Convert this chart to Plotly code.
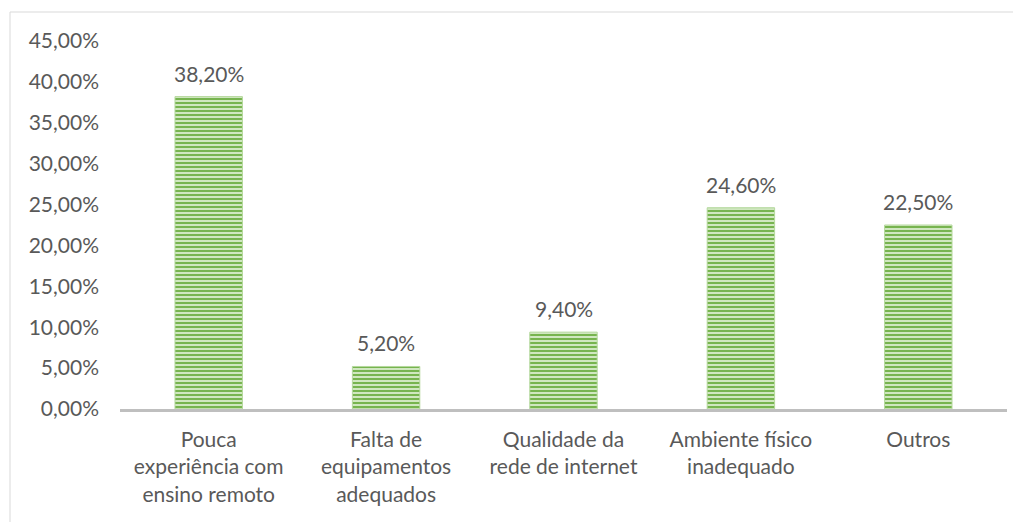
import plotly.graph_objects as go

# Categories and values (percent)
categorias = [
    "Pouca<br>experiência com<br>ensino remoto",
    "Falta de<br>equipamentos<br>adequados",
    "Qualidade da<br>rede de internet",
    "Ambiente físico<br>inadequado",
    "Outros",
]
valores = [38.20, 5.20, 9.40, 24.60, 22.50]
ticks_y = [0, 5, 10, 15, 20, 25, 30, 35, 40, 45]

def fmt_pct(v):
    return f"{v:.2f}%".replace(".", ",")

rotulos = [fmt_pct(v) for v in valores]
ticks_txt = [fmt_pct(t) for t in ticks_y]

fonte = dict(family="Lato, 'Open Sans', sans-serif", size=21, color="#595959")

fig = go.Figure()
fig.add_trace(go.Bar(
    x=categorias,
    y=valores,
    marker=dict(
        color="#d0e7c0",
        line=dict(color="#b4d89c", width=1),
        pattern=dict(shape="-", fgcolor="#77b44f", bgcolor="#d0e7c0",
                     size=4, solidity=0.5, fillmode="replace"),
    ),
    width=0.38,
))

# value labels above bars
for c, v, t in zip(categorias, valores, rotulos):
    fig.add_annotation(x=c, y=v, text=t, showarrow=False,
                       yanchor="bottom", yshift=9, font=fonte)

# outer chart border
fig.add_shape(type="rect", xref="paper", yref="paper",
              x0=-0.124, x1=1.0147, y0=-0.33, y1=1.0788,
              line=dict(color="#d9d9d9", width=1), fillcolor="rgba(0,0,0,0)",
              layer="below")

# page body has an 8px margin, so shift the plot area to compensate
fig.update_layout(
    width=1021, height=522,
    margin=dict(l=112, r=22, t=33, b=121),
    paper_bgcolor="white", plot_bgcolor="white",
    font=fonte,
    showlegend=False,
)
fig.update_yaxes(range=[0, 45], tickvals=ticks_y, ticktext=ticks_txt,
                 showgrid=False, zeroline=False, showline=False,
                 ticks="", ticklabelstandoff=20)
fig.update_xaxes(showline=True, linecolor="#bfbfbf", linewidth=2.5,
                 ticks="", showgrid=False, ticklabelstandoff=10)

fig.write_html("out.html")
